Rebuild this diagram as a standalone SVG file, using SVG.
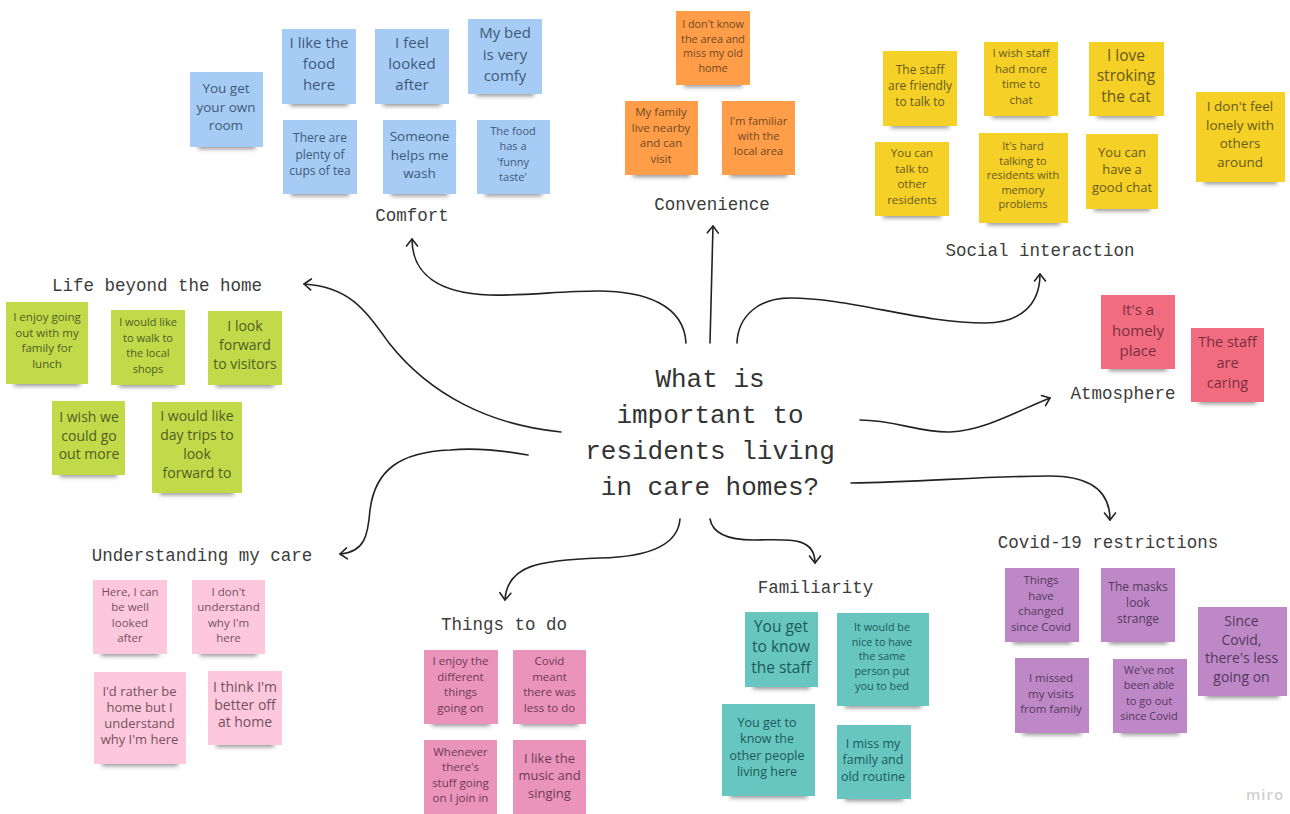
<svg xmlns="http://www.w3.org/2000/svg" width="1290" height="814" viewBox="0 0 1290 814">
<style>
.label{font-family:"Liberation Mono",monospace;font-size:17.5px;fill:#3c3c3c;text-anchor:middle}
.title{font-family:"Liberation Mono",monospace;font-size:26px;fill:#333;text-anchor:middle}
.note text{font-family:"Open Sans","Noto Sans",sans-serif;text-anchor:middle}
.sh{fill:#3a3a3a;fill-opacity:.55;filter:url(#blur)}
.c{fill:none;stroke:#222;stroke-width:1.6;stroke-linecap:round;marker-end:url(#arrow)}
.blue rect.n{fill:#a6ccf5}.blue .note text{fill:#3f5a78}
.yellow rect.n{fill:#f5d128}.yellow .note text{fill:#66591a}
.orange rect.n{fill:#ff9d48}.orange .note text{fill:#704a22}
.red rect.n{fill:#f16c7f}.red .note text{fill:#7a2f40}
.green rect.n{fill:#c2d94a}.green .note text{fill:#4f5e22}
.lpink rect.n{fill:#fdc8dc}.lpink .note text{fill:#75505f}
.pink rect.n{fill:#ea94bb}.pink .note text{fill:#6e3a55}
.teal rect.n{fill:#67c6c0}.teal .note text{fill:#1d5a58}
.violet rect.n{fill:#be88c7}.violet .note text{fill:#533a5c}
</style>
<defs>
<filter id="blur" x="-20%" y="-150%" width="140%" height="400%"><feGaussianBlur stdDeviation="2"/></filter>
<marker id="arrow" markerUnits="userSpaceOnUse" markerWidth="20" markerHeight="20" refX="10" refY="10" orient="auto" overflow="visible"><path d="M3 4.5L10 10L3 15.5" fill="none" stroke="#222" stroke-width="1.6" stroke-linecap="round" stroke-linejoin="round"/></marker>
</defs>
<rect width="1290" height="814" fill="#fff"/>

<g id="connectors">
<path class="c" d="M686 343C684 305 645 291 598 291C560 291 525 296 489 295C440 293 412 275 412 239"/>
<path class="c" d="M710 343L713 226"/>
<path class="c" d="M737 343C738 315 760 298 790 298C850 298 920 323 985 323C1020 323 1040 305 1040 274"/>
<path class="c" d="M561 432C490 425 430 395 389 343C365 310 350 287 304 284"/>
<path class="c" d="M860 420C895 420 920 433 950 432C985 430 1015 412 1050 398"/>
<path class="c" d="M851 483C920 482 990 476 1050 476C1090 476 1110 490 1110 520"/>
<path class="c" d="M528 455C500 450 470 448 450 450C400 452 375 470 370 510C368 535 365 552 340 554"/>
<path class="c" d="M680 519C678 545 650 557 600 558C540 560 507 565 505 600"/>
<path class="c" d="M710 519C713 535 730 540 753 540C785 540 815 535 815 563"/>
</g>

<g id="question"><text class="title" x="710" y="387">What is</text><text class="title" x="710" y="423">important to</text><text class="title" x="710" y="459">residents living</text><text class="title" x="710" y="495">in care homes?</text></g>

<g id="comfort" class="blue">
<text class="label" x="412" y="221">Comfort</text>
<g id="comfort-1" class="note"><rect class="sh" x="198" y="143" width="57" height="6"/><rect class="n" x="190" y="72" width="73" height="75"/><text font-size="13.5" y="93"><tspan x="226">You get</tspan><tspan x="226" dy="18.5">your own</tspan><tspan x="226" dy="18.5">room</tspan></text></g>
<g id="comfort-2" class="note"><rect class="sh" x="290" y="100" width="58" height="6"/><rect class="n" x="282" y="29" width="74" height="75"/><text font-size="15" y="48"><tspan x="319">I like the</tspan><tspan x="319" dy="21">food</tspan><tspan x="319" dy="21">here</tspan></text></g>
<g id="comfort-3" class="note"><rect class="sh" x="383" y="100" width="58" height="6"/><rect class="n" x="375" y="29" width="74" height="75"/><text font-size="15" y="48"><tspan x="412">I feel</tspan><tspan x="412" dy="21">looked</tspan><tspan x="412" dy="21">after</tspan></text></g>
<g id="comfort-4" class="note"><rect class="sh" x="476" y="90" width="58" height="6"/><rect class="n" x="468" y="19" width="74" height="75"/><text font-size="15" y="38"><tspan x="505">My bed</tspan><tspan x="505" dy="21.5">is very</tspan><tspan x="505" dy="21.5">comfy</tspan></text></g>
<g id="comfort-5" class="note"><rect class="sh" x="291" y="190" width="58" height="6"/><rect class="n" x="283" y="120" width="74" height="74"/><text font-size="12" y="142"><tspan x="320">There are</tspan><tspan x="320" dy="16.5">plenty of</tspan><tspan x="320" dy="16.5">cups of tea</tspan></text></g>
<g id="comfort-6" class="note"><rect class="sh" x="391" y="190" width="57" height="6"/><rect class="n" x="383" y="120" width="73" height="74"/><text font-size="13.5" y="141"><tspan x="419.5">Someone</tspan><tspan x="419.5" dy="18.5">helps me</tspan><tspan x="419.5" dy="18.5">wash</tspan></text></g>
<g id="comfort-7" class="note"><rect class="sh" x="485" y="190" width="57" height="6"/><rect class="n" x="477" y="120" width="73" height="74"/><text font-size="11" y="135"><tspan x="513">The food</tspan><tspan x="513" dy="15.3">has a</tspan><tspan x="513" dy="15.3">'funny</tspan><tspan x="513" dy="15.3">taste'</tspan></text></g>
</g>

<g id="convenience" class="orange">
<text class="label" x="712" y="210">Convenience</text>
<g id="convenience-1" class="note"><rect class="sh" x="684" y="81" width="58" height="6"/><rect class="n" x="676" y="11" width="74" height="74"/><text font-size="10.8" y="28"><tspan x="713">I don't know</tspan><tspan x="713" dy="14.5">the area and</tspan><tspan x="713" dy="14.5">miss my old</tspan><tspan x="713" dy="14.5">home</tspan></text></g>
<g id="convenience-2" class="note"><rect class="sh" x="633" y="171" width="57" height="6"/><rect class="n" x="625" y="101" width="73" height="74"/><text font-size="11.5" y="116"><tspan x="661">My family</tspan><tspan x="661" dy="15.5">live nearby</tspan><tspan x="661" dy="15.5">and can</tspan><tspan x="661" dy="15.5">visit</tspan></text></g>
<g id="convenience-3" class="note"><rect class="sh" x="730" y="171" width="57" height="6"/><rect class="n" x="722" y="101" width="73" height="74"/><text font-size="11" y="125"><tspan x="758.5">I'm familiar</tspan><tspan x="758.5" dy="15">with the</tspan><tspan x="758.5" dy="15">local area</tspan></text></g>
</g>

<g id="social" class="yellow">
<text class="label" x="1040" y="256">Social interaction</text>
<g id="social-1" class="note"><rect class="sh" x="891" y="122" width="58" height="6"/><rect class="n" x="883" y="51" width="74" height="75"/><text font-size="12" y="74"><tspan x="920">The staff</tspan><tspan x="920" dy="16">are friendly</tspan><tspan x="920" dy="16">to talk to</tspan></text></g>
<g id="social-2" class="note"><rect class="sh" x="992" y="112" width="58" height="6"/><rect class="n" x="984" y="42" width="74" height="74"/><text font-size="11.5" y="57"><tspan x="1021">I wish staff</tspan><tspan x="1021" dy="15.5">had more</tspan><tspan x="1021" dy="15.5">time to</tspan><tspan x="1021" dy="15.5">chat</tspan></text></g>
<g id="social-3" class="note"><rect class="sh" x="1097" y="112" width="59" height="6"/><rect class="n" x="1089" y="42" width="75" height="74"/><text font-size="15.5" y="60.5"><tspan x="1126">I love</tspan><tspan x="1126" dy="20.5">stroking</tspan><tspan x="1126" dy="20.5">the cat</tspan></text></g>
<g id="social-4" class="note"><rect class="sh" x="1204" y="178" width="73" height="6"/><rect class="n" x="1196" y="92" width="89" height="90"/><text font-size="13.5" y="111"><tspan x="1240">I don't feel</tspan><tspan x="1240" dy="18.7">lonely with</tspan><tspan x="1240" dy="18.7">others</tspan><tspan x="1240" dy="18.7">around</tspan></text></g>
<g id="social-5" class="note"><rect class="sh" x="883" y="212" width="58" height="6"/><rect class="n" x="875" y="142" width="74" height="74"/><text font-size="11.5" y="157"><tspan x="912">You can</tspan><tspan x="912" dy="15.5">talk to</tspan><tspan x="912" dy="15.5">other</tspan><tspan x="912" dy="15.5">residents</tspan></text></g>
<g id="social-6" class="note"><rect class="sh" x="987" y="219" width="73" height="6"/><rect class="n" x="979" y="133" width="89" height="90"/><text font-size="11" y="150"><tspan x="1023">It's hard</tspan><tspan x="1023" dy="14.5">talking to</tspan><tspan x="1023" dy="14.5">residents with</tspan><tspan x="1023" dy="14.5">memory</tspan><tspan x="1023" dy="14.5">problems</tspan></text></g>
<g id="social-7" class="note"><rect class="sh" x="1094" y="205" width="56" height="6"/><rect class="n" x="1086" y="134" width="72" height="75"/><text font-size="13" y="156.5"><tspan x="1122">You can</tspan><tspan x="1122" dy="17.5">have a</tspan><tspan x="1122" dy="17.5">good chat</tspan></text></g>
</g>

<g id="atmosphere" class="red">
<text class="label" x="1123" y="399">Atmosphere</text>
<g id="atmosphere-1" class="note"><rect class="sh" x="1109" y="365" width="58" height="6"/><rect class="n" x="1101" y="295" width="74" height="74"/><text font-size="15" y="315"><tspan x="1138">It's a</tspan><tspan x="1138" dy="20.5">homely</tspan><tspan x="1138" dy="20.5">place</tspan></text></g>
<g id="atmosphere-2" class="note"><rect class="sh" x="1199" y="398" width="57" height="6"/><rect class="n" x="1191" y="328" width="73" height="74"/><text font-size="14.5" y="347"><tspan x="1227.5">The staff</tspan><tspan x="1227.5" dy="20.7">are</tspan><tspan x="1227.5" dy="20.7">caring</tspan></text></g>
</g>

<g id="life" class="green">
<text class="label" x="157" y="291">Life beyond the home</text>
<g id="life-1" class="note"><rect class="sh" x="14" y="380" width="66" height="6"/><rect class="n" x="6" y="302" width="82" height="82"/><text font-size="11.5" y="321"><tspan x="47">I enjoy going</tspan><tspan x="47" dy="15.7">out with my</tspan><tspan x="47" dy="15.7">family for</tspan><tspan x="47" dy="15.7">lunch</tspan></text></g>
<g id="life-2" class="note"><rect class="sh" x="119" y="381" width="58" height="6"/><rect class="n" x="111" y="310" width="74" height="75"/><text font-size="11" y="326"><tspan x="148">I would like</tspan><tspan x="148" dy="15.5">to walk to</tspan><tspan x="148" dy="15.5">the local</tspan><tspan x="148" dy="15.5">shops</tspan></text></g>
<g id="life-3" class="note"><rect class="sh" x="216" y="381" width="58" height="6"/><rect class="n" x="208" y="311" width="74" height="74"/><text font-size="14" y="331"><tspan x="245">I look</tspan><tspan x="245" dy="19">forward</tspan><tspan x="245" dy="19">to visitors</tspan></text></g>
<g id="life-4" class="note"><rect class="sh" x="60" y="471" width="57" height="6"/><rect class="n" x="52" y="401" width="73" height="74"/><text font-size="14" y="422"><tspan x="89">I wish we</tspan><tspan x="89" dy="18.7">could go</tspan><tspan x="89" dy="18.7">out more</tspan></text></g>
<g id="life-5" class="note"><rect class="sh" x="160" y="489" width="74" height="6"/><rect class="n" x="152" y="402" width="90" height="91"/><text font-size="14" y="421"><tspan x="197">I would like</tspan><tspan x="197" dy="19">day trips to</tspan><tspan x="197" dy="19">look</tspan><tspan x="197" dy="19">forward to</tspan></text></g>
</g>

<g id="understanding" class="lpink">
<text class="label" x="202" y="561">Understanding my care</text>
<g id="understanding-1" class="note"><rect class="sh" x="101" y="650" width="58" height="6"/><rect class="n" x="93" y="580" width="74" height="74"/><text font-size="11.5" y="596"><tspan x="130">Here, I can</tspan><tspan x="130" dy="15.4">be well</tspan><tspan x="130" dy="15.4">looked</tspan><tspan x="130" dy="15.4">after</tspan></text></g>
<g id="understanding-2" class="note"><rect class="sh" x="200" y="650" width="57" height="6"/><rect class="n" x="192" y="580" width="73" height="74"/><text font-size="11.5" y="596"><tspan x="228.5">I don't</tspan><tspan x="228.5" dy="15.4">understand</tspan><tspan x="228.5" dy="15.4">why I'm</tspan><tspan x="228.5" dy="15.4">here</tspan></text></g>
<g id="understanding-3" class="note"><rect class="sh" x="102" y="760" width="76" height="6"/><rect class="n" x="94" y="672" width="92" height="92"/><text font-size="13" y="695.5"><tspan x="139.5">I'd rather be</tspan><tspan x="139.5" dy="16.2">home but I</tspan><tspan x="139.5" dy="16.2">understand</tspan><tspan x="139.5" dy="16.2">why I'm here</tspan></text></g>
<g id="understanding-4" class="note"><rect class="sh" x="216" y="741" width="58" height="6"/><rect class="n" x="208" y="671" width="74" height="74"/><text font-size="14" y="692"><tspan x="245">I think I'm</tspan><tspan x="245" dy="17.5">better off</tspan><tspan x="245" dy="17.5">at home</tspan></text></g>
</g>

<g id="things" class="pink">
<text class="label" x="504" y="630">Things to do</text>
<g id="things-1" class="note"><rect class="sh" x="432" y="720" width="58" height="6"/><rect class="n" x="424" y="650" width="74" height="74"/><text font-size="11.5" y="665"><tspan x="460.5">I enjoy the</tspan><tspan x="460.5" dy="15.6">different</tspan><tspan x="460.5" dy="15.6">things</tspan><tspan x="460.5" dy="15.6">going on</tspan></text></g>
<g id="things-2" class="note"><rect class="sh" x="521" y="720" width="57" height="6"/><rect class="n" x="513" y="650" width="73" height="74"/><text font-size="11.5" y="665"><tspan x="549.5">Covid</tspan><tspan x="549.5" dy="15.6">meant</tspan><tspan x="549.5" dy="15.6">there was</tspan><tspan x="549.5" dy="15.6">less to do</tspan></text></g>
<g id="things-3" class="note"><rect class="n" x="424" y="740" width="73" height="74"/><text font-size="11.5" y="756"><tspan x="460.5">Whenever</tspan><tspan x="460.5" dy="15.4">there's</tspan><tspan x="460.5" dy="15.4">stuff going</tspan><tspan x="460.5" dy="15.4">on I join in</tspan></text></g>
<g id="things-4" class="note"><rect class="n" x="513" y="740" width="73" height="74"/><text font-size="13" y="762.5"><tspan x="549.5">I like the</tspan><tspan x="549.5" dy="17.5">music and</tspan><tspan x="549.5" dy="17.5">singing</tspan></text></g>
</g>

<g id="familiarity" class="teal">
<text class="label" x="815.5" y="593">Familiarity</text>
<g id="familiarity-1" class="note"><rect class="sh" x="753" y="683" width="57" height="6"/><rect class="n" x="745" y="612" width="73" height="75"/><text font-size="15.5" y="631.5"><tspan x="781">You get</tspan><tspan x="781" dy="20.5">to know</tspan><tspan x="781" dy="20.5">the staff</tspan></text></g>
<g id="familiarity-2" class="note"><rect class="sh" x="845" y="702" width="76" height="6"/><rect class="n" x="837" y="613" width="92" height="93"/><text font-size="10.8" y="631"><tspan x="882">It would be</tspan><tspan x="882" dy="14.7">nice to have</tspan><tspan x="882" dy="14.7">the same</tspan><tspan x="882" dy="14.7">person put</tspan><tspan x="882" dy="14.7">you to bed</tspan></text></g>
<g id="familiarity-3" class="note"><rect class="sh" x="730" y="792" width="77" height="6"/><rect class="n" x="722" y="704" width="93" height="92"/><text font-size="12.5" y="726.5"><tspan x="767">You get to</tspan><tspan x="767" dy="16.5">know the</tspan><tspan x="767" dy="16.5">other people</tspan><tspan x="767" dy="16.5">living here</tspan></text></g>
<g id="familiarity-4" class="note"><rect class="sh" x="845" y="795" width="58" height="6"/><rect class="n" x="837" y="725" width="74" height="74"/><text font-size="12.5" y="747.5"><tspan x="873">I miss my</tspan><tspan x="873" dy="16.5">family and</tspan><tspan x="873" dy="16.5">old routine</tspan></text></g>
</g>

<g id="covid" class="violet">
<text class="label" x="1108" y="548">Covid-19 restrictions</text>
<g id="covid-1" class="note"><rect class="sh" x="1013" y="638" width="58" height="6"/><rect class="n" x="1005" y="568" width="74" height="74"/><text font-size="11.5" y="584"><tspan x="1041">Things</tspan><tspan x="1041" dy="15.5">have</tspan><tspan x="1041" dy="15.5">changed</tspan><tspan x="1041" dy="15.5">since Covid</tspan></text></g>
<g id="covid-2" class="note"><rect class="sh" x="1109" y="638" width="58" height="6"/><rect class="n" x="1101" y="568" width="74" height="74"/><text font-size="12" y="591"><tspan x="1138">The masks</tspan><tspan x="1138" dy="16.2">look</tspan><tspan x="1138" dy="16.2">strange</tspan></text></g>
<g id="covid-3" class="note"><rect class="sh" x="1206" y="692" width="73" height="6"/><rect class="n" x="1198" y="607" width="89" height="89"/><text font-size="14" y="626"><tspan x="1241.5">Since</tspan><tspan x="1241.5" dy="18.7">Covid,</tspan><tspan x="1241.5" dy="18.7">there's less</tspan><tspan x="1241.5" dy="18.7">going on</tspan></text></g>
<g id="covid-4" class="note"><rect class="sh" x="1023" y="729" width="58" height="6"/><rect class="n" x="1015" y="658" width="74" height="75"/><text font-size="11.5" y="682"><tspan x="1051">I missed</tspan><tspan x="1051" dy="15.5">my visits</tspan><tspan x="1051" dy="15.5">from family</tspan></text></g>
<g id="covid-5" class="note"><rect class="sh" x="1121" y="729" width="58" height="6"/><rect class="n" x="1113" y="659" width="74" height="74"/><text font-size="11" y="674"><tspan x="1149">We've not</tspan><tspan x="1149" dy="15.4">been able</tspan><tspan x="1149" dy="15.4">to go out</tspan><tspan x="1149" dy="15.4">since Covid</tspan></text></g>
</g>

<text id="miro" x="1265" y="800" font-family="Open Sans,sans-serif" font-size="15" font-weight="600" fill="#cfcfcf" text-anchor="middle" letter-spacing="1">miro</text>
</svg>
